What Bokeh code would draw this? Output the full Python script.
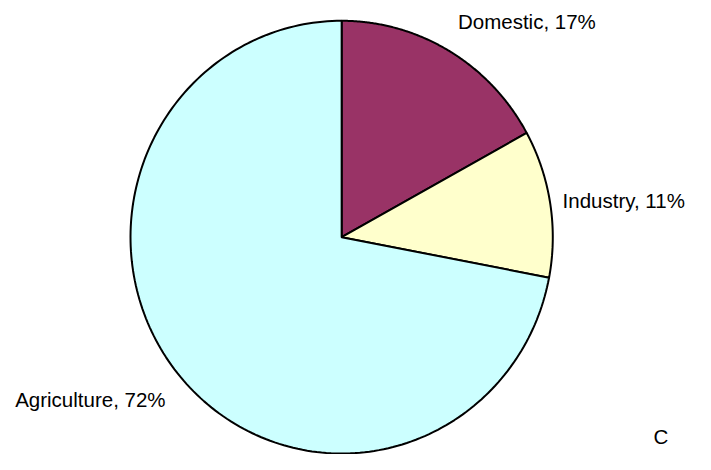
import numpy as np
from bokeh.plotting import figure
from bokeh.models import Range1d, ColumnDataSource
from bokeh.core.properties import value
from bokeh.embed import file_html
from bokeh.resources import INLINE

categories = ["Domestic", "Industry", "Agriculture"]
shares = [17, 11, 72]
colors = ["#993366", "#FFFFCC", "#CCFFFF"]
labels = ["Domestic, 17%", "Industry, 11%", "Agriculture, 72%"]

W, H = 695, 454
p = figure(width=W, height=H, output_backend="svg", toolbar_location=None,
           x_range=Range1d(0, 711), y_range=Range1d(470, 0),
           min_border=0)
p.axis.visible = False
p.grid.visible = False
p.outline_line_color = None
p.background_fill_color = "white"

cx, cy, rx, ry = 349, 245, 216, 224
fr = np.array(shares, dtype=float) / sum(shares)
ends = np.pi / 2 - 2 * np.pi * np.cumsum(fr)
starts = np.concatenate([[np.pi / 2], ends[:-1]])

xs, ys = [], []
for a0, a1 in zip(starts, ends):
    t = np.linspace(a0, a1, 200)
    xs.append(np.concatenate([[cx], cx + rx * np.cos(t), [cx]]))
    ys.append(np.concatenate([[cy], cy - ry * np.sin(t), [cy]]))

src = ColumnDataSource(dict(xs=xs, ys=ys, color=colors))
p.patches("xs", "ys", source=src, fill_color="color", line_color="black", line_width=2)

lx = [468, 575, 15]
ly = [22, 207, 413]
p.text(x=lx, y=ly, text=labels, text_font=value("Liberation Sans"),
       text_font_size="20.5px", text_baseline="middle", text_align="left", text_color="black")
p.text(x=[668], y=[451], text=["C"], text_font=value("Liberation Sans"),
       text_font_size="20.5px", text_baseline="middle", text_align="left", text_color="black")

open("out.html", "w").write(file_html(p, INLINE))
